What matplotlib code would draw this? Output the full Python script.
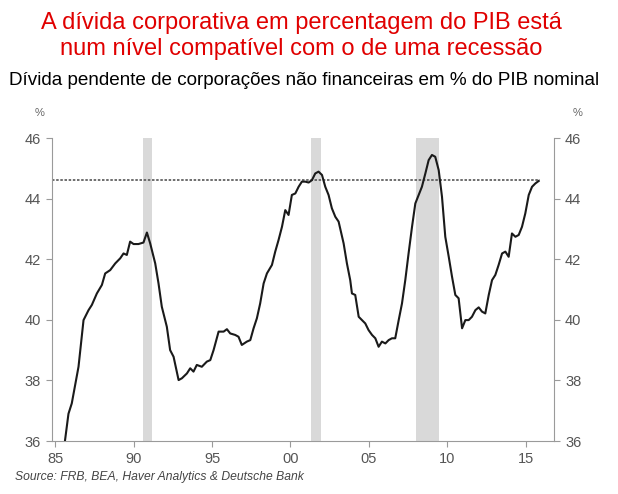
import numpy as np
import matplotlib
matplotlib.use("Agg")
import matplotlib.pyplot as plt

# Dívida corporativa (% do PIB)
years = [1985.5, 1985.85, 1986.06, 1986.49, 1986.81, 1987.13, 1987.34, 1987.66, 1987.98,
         1988.19, 1988.51, 1988.83, 1989.15, 1989.36, 1989.57, 1989.78, 1990.0, 1990.31,
         1990.63, 1990.85, 1991.06, 1991.38, 1991.59, 1991.8, 1992.12, 1992.33, 1992.55,
         1992.87, 1993.08, 1993.4, 1993.61, 1993.82, 1994.03, 1994.35, 1994.67, 1994.89,
         1995.1, 1995.42, 1995.74, 1995.95, 1996.16, 1996.48, 1996.69, 1996.9, 1997.22,
         1997.44, 1997.65, 1997.86, 1998.07, 1998.29, 1998.5, 1998.82, 1999.03, 1999.24,
         1999.46, 1999.67, 1999.88, 2000.09, 2000.31, 2000.52, 2000.73, 2000.94, 2001.16,
         2001.37, 2001.58, 2001.79, 2002.01, 2002.22, 2002.43, 2002.64, 2002.86, 2003.07,
         2003.39, 2003.6, 2003.81, 2003.92, 2004.13, 2004.35, 2004.56, 2004.77, 2004.98,
         2005.2, 2005.41, 2005.62, 2005.83, 2006.05, 2006.26, 2006.47, 2006.68, 2006.9,
         2007.11, 2007.32, 2007.53, 2007.75, 2007.96, 2008.17, 2008.38, 2008.6, 2008.81,
         2009.02, 2009.23, 2009.45, 2009.66, 2009.87, 2010.09, 2010.3, 2010.51, 2010.72,
         2010.94, 2011.15, 2011.36, 2011.57, 2011.79, 2012.0, 2012.21, 2012.42, 2012.64,
         2012.85, 2013.06, 2013.27, 2013.49, 2013.7, 2013.91, 2014.12, 2014.34, 2014.55,
         2014.76, 2014.97, 2015.19, 2015.4, 2015.61, 2015.82]
debt = [35.5, 36.9, 37.24, 38.45, 39.99, 40.32, 40.49, 40.87, 41.15,
        41.53, 41.64, 41.86, 42.03, 42.19, 42.14, 42.58, 42.5, 42.5,
        42.55, 42.88, 42.52, 41.86, 41.2, 40.43, 39.77, 39.0, 38.78,
        38.01, 38.07, 38.23, 38.4, 38.29, 38.51, 38.45, 38.62, 38.67,
        39.0, 39.61, 39.61, 39.69, 39.55, 39.5, 39.44, 39.17, 39.28,
        39.33, 39.72, 40.05, 40.54, 41.2, 41.53, 41.81, 42.25, 42.63,
        43.07, 43.62, 43.46, 44.12, 44.17, 44.39, 44.56, 44.56, 44.53,
        44.61, 44.83, 44.89, 44.78, 44.39, 44.12, 43.68, 43.4, 43.24,
        42.52, 41.86, 41.31, 40.87, 40.82, 40.1, 39.99, 39.88, 39.66,
        39.5, 39.39, 39.11, 39.28, 39.22, 39.33, 39.39, 39.39, 39.99,
        40.54, 41.31, 42.19, 43.07, 43.84, 44.12, 44.39, 44.83, 45.27,
        45.44, 45.38, 44.94, 44.06, 42.74, 42.08, 41.42, 40.82, 40.71,
        39.72, 39.99, 39.99, 40.1, 40.32, 40.41, 40.27, 40.21, 40.82,
        41.31, 41.48, 41.81, 42.19, 42.25, 42.08, 42.85, 42.74, 42.8,
        43.07, 43.51, 44.12, 44.39, 44.5, 44.58]

recessions = [(1990.6, 1991.2), (2001.3, 2001.95), (2008.0, 2009.5)]
current_level = 44.6
xticks = [1985, 1990, 1995, 2000, 2005, 2010, 2015]
xlabels = ["85", "90", "95", "00", "05", "10", "15"]
yticks = [36, 38, 40, 42, 44, 46]

plt.rcParams['font.family'] = ['Liberation Sans', 'DejaVu Sans']

fig = plt.figure(figsize=(6.18, 4.94), dpi=100)
ax = fig.add_axes([52 / 618, 1 - 441 / 494, (554 - 52) / 618, (441 - 138) / 494])

for a, b in recessions:
    ax.axvspan(a, b, color="#d9d9d9", lw=0, zorder=1)

ax.plot([1984.8, 2015.9], [current_level, current_level], color="#555555",
        lw=1.2, ls=(0, (1.5, 1)), zorder=2)
ax.plot(years, debt, color="#1a1a1a", lw=1.5, zorder=3)

ax.set_xlim(1984.8, 2016.8)
ax.set_ylim(36, 46)
ax.set_xticks(xticks)
ax.set_xticklabels(xlabels)
ax.set_yticks(yticks)

for s in ["left", "right", "bottom"]:
    ax.spines[s].set_color("#9a9a9a")
ax.spines["top"].set_visible(False)
ax.tick_params(axis="y", which="both", direction="out", length=4, color="#9a9a9a",
               labelcolor="#555555", labelsize=10.5, left=True, right=True,
               labelleft=True, labelright=True, pad=4)
ax.tick_params(axis="x", direction="out", length=4, color="#9a9a9a",
               labelcolor="#555555", labelsize=10.5, pad=4)

fig.text(40 / 618, 1 - 113 / 494, "%", color="#666666", fontsize=8, ha="center", va="center")
fig.text(578 / 618, 1 - 113 / 494, "%", color="#666666", fontsize=8, ha="center", va="center")

fig.text(0.487, 1 - 28.5 / 494, "A dívida corporativa em percentagem do PIB está",
         color="#e00000", fontsize=17, ha="center", va="baseline")
fig.text(0.487, 1 - 55 / 494, "num nível compatível com o de uma recessão",
         color="#e00000", fontsize=17, ha="center", va="baseline")
fig.text(0.492, 1 - 85 / 494, "Dívida pendente de corporações não financeiras em % do PIB nominal",
         color="black", fontsize=13.6, ha="center", va="baseline")
fig.text(15 / 618, 1 - 480 / 494, "Source: FRB, BEA, Haver Analytics & Deutsche Bank",
         color="#444444", fontsize=8.7, style="italic", ha="left", va="baseline")

fig.savefig("out.png", dpi=100)
